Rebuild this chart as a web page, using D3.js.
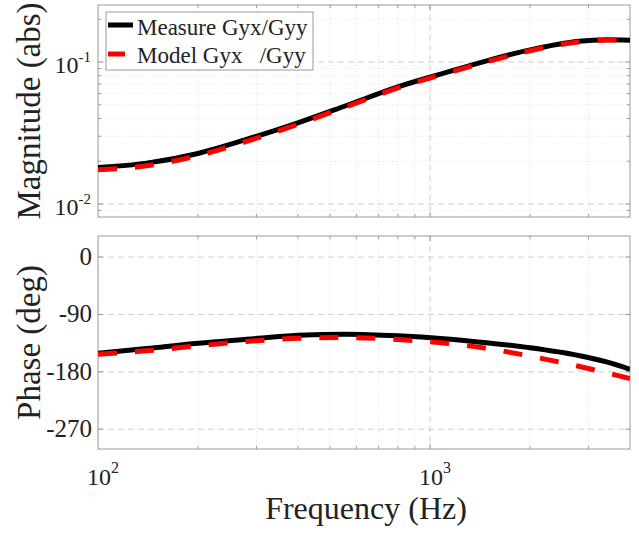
<!DOCTYPE html>
<html>
<head>
<meta charset="utf-8">
<script src="https://cdn.jsdelivr.net/npm/d3@7"></script>
<style>
  html, body { margin: 0; padding: 0; background: #fff; }
  svg { display: block; }
  text { font-family: "Liberation Serif", "Times New Roman", serif; fill: #222; }
</style>
</head>
<body>
<svg id="chart" width="639" height="534"></svg>
<script>
// Frequency grid (Hz) shared by both series
const freq = [100, 140, 200, 280, 400, 560, 800, 1100, 1500, 2000, 2800, 3400, 4000];

// Magnitude ratio |Gyx/Gyy|
const magMeasure = [0.0181, 0.0194, 0.0227, 0.0285, 0.0373, 0.0494, 0.0668, 0.0834, 0.1028, 0.1217, 0.1400, 0.1435, 0.1425];
const magModel   = [0.0174, 0.0186, 0.0219, 0.0276, 0.0364, 0.0484, 0.0657, 0.0822, 0.1012, 0.1200, 0.1385, 0.1430, 0.1430];

// Phase (deg)
const phaseMeasure = [-151.0, -143.5, -135.2, -129.0, -122.8, -121.0, -123.5, -128.0, -134.7, -142.3, -154.4, -164.5, -176.0];
const phaseModel   = [-152.5, -147.0, -139.3, -132.4, -127.5, -126.2, -129.3, -134.8, -143.6, -155.4, -171.2, -181.5, -190.5];

// Axis tick labels
const xTicks = [{v: 100, base: "10", exp: "2"}, {v: 1000, base: "10", exp: "3"}];
const magTicks = [{v: 0.1, base: "10", exp: "-1"}, {v: 0.01, base: "10", exp: "-2"}];
const phaseTicks = [0, -90, -180, -270];

const legendLabels = ["Measure Gyx/Gyy", "Model Gyx   /Gyy"];

const svg = d3.select("#chart");

const L = 98, R = 630;
const top1 = 5, bot1 = 217;
const top2 = 236, bot2 = 449;

const x = d3.scaleLog().domain([100, 4000]).range([L, R]);
const yMag = d3.scaleLog().domain([0.0081, 0.252]).range([bot1, top1]);
const yPh = d3.scaleLinear().domain([-301, 33]).range([bot2, top2]);

const axisColor = "#9a9a9a";
const majorGrid = "#cfcfcf";
const minorGrid = "#e3e3e3";

// minor/major x positions
const xMinor = [];
for (const dec of [100, 1000]) for (let k = 2; k <= 9; k++) { const f = dec * k; if (f < 4000) xMinor.push(f); }
const xMajor = [1000];

function panel(g, yScale, yMajor, yMinor, yT, yB) {
  // minor grid
  g.selectAll(".vmin").data(xMinor).join("line")
    .attr("x1", d => x(d)).attr("x2", d => x(d)).attr("y1", yT).attr("y2", yB)
    .attr("stroke", minorGrid).attr("stroke-width", 1).attr("stroke-dasharray", "1,2");
  g.selectAll(".hmin").data(yMinor).join("line").attr("class", "hmin")
    .attr("x1", L).attr("x2", R).attr("y1", d => yScale(d)).attr("y2", d => yScale(d))
    .attr("stroke", minorGrid).attr("stroke-width", 1).attr("stroke-dasharray", "1,2");
  // major grid
  g.selectAll(".vmaj").data(xMajor).join("line").attr("class", "vmaj")
    .attr("x1", d => x(d)).attr("x2", d => x(d)).attr("y1", yT).attr("y2", yB)
    .attr("stroke", majorGrid).attr("stroke-width", 1).attr("stroke-dasharray", "6,4");
  g.selectAll(".hmaj").data(yMajor).join("line").attr("class", "hmaj")
    .attr("x1", L).attr("x2", R).attr("y1", d => yScale(d)).attr("y2", d => yScale(d))
    .attr("stroke", majorGrid).attr("stroke-width", 1).attr("stroke-dasharray", "6,4");
  // inward tick marks
  const tk = [];
  for (const f of xMinor.concat(xMajor)) {
    tk.push([x(f), yB, x(f), yB - (xMajor.includes(f) ? 5 : 3)]);
    tk.push([x(f), yT, x(f), yT + (xMajor.includes(f) ? 5 : 3)]);
  }
  for (const v of yMinor.concat(yMajor)) {
    const len = yMajor.includes(v) ? 5 : 3;
    tk.push([L, yScale(v), L + len, yScale(v)]);
    tk.push([R, yScale(v), R - len, yScale(v)]);
  }
  g.selectAll(".tk").data(tk).join("line").attr("class", "tk")
    .attr("x1", d => d[0]).attr("y1", d => d[1]).attr("x2", d => d[2]).attr("y2", d => d[3])
    .attr("stroke", axisColor).attr("stroke-width", 1);
  // frame
  g.append("rect").attr("x", L).attr("y", yT).attr("width", R - L).attr("height", yB - yT)
    .attr("fill", "none").attr("stroke", axisColor).attr("stroke-width", 1);
}

function curves(g, yScale, meas, model) {
  const line = d3.line().x(d => x(d[0])).y(d => yScale(d[1])).curve(d3.curveMonotoneX);
  g.append("path").datum(freq.map((f, i) => [f, meas[i]]))
    .attr("d", line).attr("fill", "none").attr("stroke", "#000").attr("stroke-width", 5)
    .attr("stroke-linejoin", "round");
  g.append("path").datum(freq.map((f, i) => [f, model[i]]))
    .attr("d", line).attr("fill", "none").attr("stroke", "#f00").attr("stroke-width", 5)
    .attr("stroke-dasharray", "19,18");
}

// ---- Magnitude panel ----
const g1 = svg.append("g");
const magMinor = [];
for (const dec of [0.001, 0.01, 0.1]) for (let k = 2; k <= 9; k++) {
  const v = dec * k; if (v > 0.0081 && v < 0.252) magMinor.push(v);
}
const clip1 = svg.append("clipPath").attr("id", "c1");
clip1.append("rect").attr("x", L).attr("y", top1).attr("width", R - L).attr("height", bot1 - top1);
panel(g1, yMag, [0.1, 0.01], magMinor, top1, bot1);
curves(g1.append("g").attr("clip-path", "url(#c1)"), yMag, magMeasure, magModel);

g1.selectAll(".ml").data(magTicks).join("text").attr("class", "ml")
  .attr("x", 91).attr("y", d => yMag(d.v) + 11).attr("text-anchor", "end")
  .attr("font-size", 24)
  .each(function(d) {
    const t = d3.select(this);
    t.append("tspan").text(d.base);
    t.append("tspan").attr("font-size", 15).attr("dy", -11).text(d.exp);
  });

svg.append("text").attr("transform", `translate(40,${(top1 + bot1) / 2}) rotate(-90)`)
  .attr("text-anchor", "middle").attr("font-size", 33).text("Magnitude (abs)");

// ---- Phase panel ----
const g2 = svg.append("g");
const clip2 = svg.append("clipPath").attr("id", "c2");
clip2.append("rect").attr("x", L).attr("y", top2).attr("width", R - L).attr("height", bot2 - top2);
panel(g2, yPh, phaseTicks, [], top2, bot2);
curves(g2.append("g").attr("clip-path", "url(#c2)"), yPh, phaseMeasure, phaseModel);

g2.selectAll(".pl").data(phaseTicks).join("text").attr("class", "pl")
  .attr("x", 92).attr("y", d => yPh(d) + 8).attr("text-anchor", "end")
  .attr("font-size", 25).text(d => d);

svg.append("text").attr("transform", `translate(40,${(top2 + bot2) / 2}) rotate(-90)`)
  .attr("text-anchor", "middle").attr("font-size", 33).text("Phase (deg)");

// x tick labels
svg.selectAll(".xl").data(xTicks).join("text").attr("class", "xl")
  .attr("x", d => x(d.v) + 5).attr("y", 485).attr("text-anchor", "middle").attr("font-size", 24)
  .each(function(d) {
    const t = d3.select(this);
    t.append("tspan").text(d.base);
    t.append("tspan").attr("font-size", 16).attr("dy", -12).text(d.exp);
  });

svg.append("text").attr("x", 366).attr("y", 519).attr("text-anchor", "middle")
  .attr("font-size", 32).text("Frequency (Hz)");

// ---- Legend ----
const lg = svg.append("g");
lg.append("rect").attr("x", 106).attr("y", 12).attr("width", 207).attr("height", 58)
  .attr("fill", "#fff").attr("stroke", axisColor).attr("stroke-width", 1);
lg.append("line").attr("x1", 108).attr("x2", 133).attr("y1", 25).attr("y2", 25)
  .attr("stroke", "#000").attr("stroke-width", 5);
lg.append("line").attr("x1", 108).attr("x2", 133).attr("y1", 54).attr("y2", 54)
  .attr("stroke", "#f00").attr("stroke-width", 5).attr("stroke-dasharray", "17,40");
lg.selectAll(".lt").data(legendLabels).join("text").attr("class", "lt")
  .attr("x", 137).attr("y", (d, i) => 35 + i * 28).attr("font-size", 23)
  .style("white-space", "pre").text(d => d);
</script>
</body>
</html>
